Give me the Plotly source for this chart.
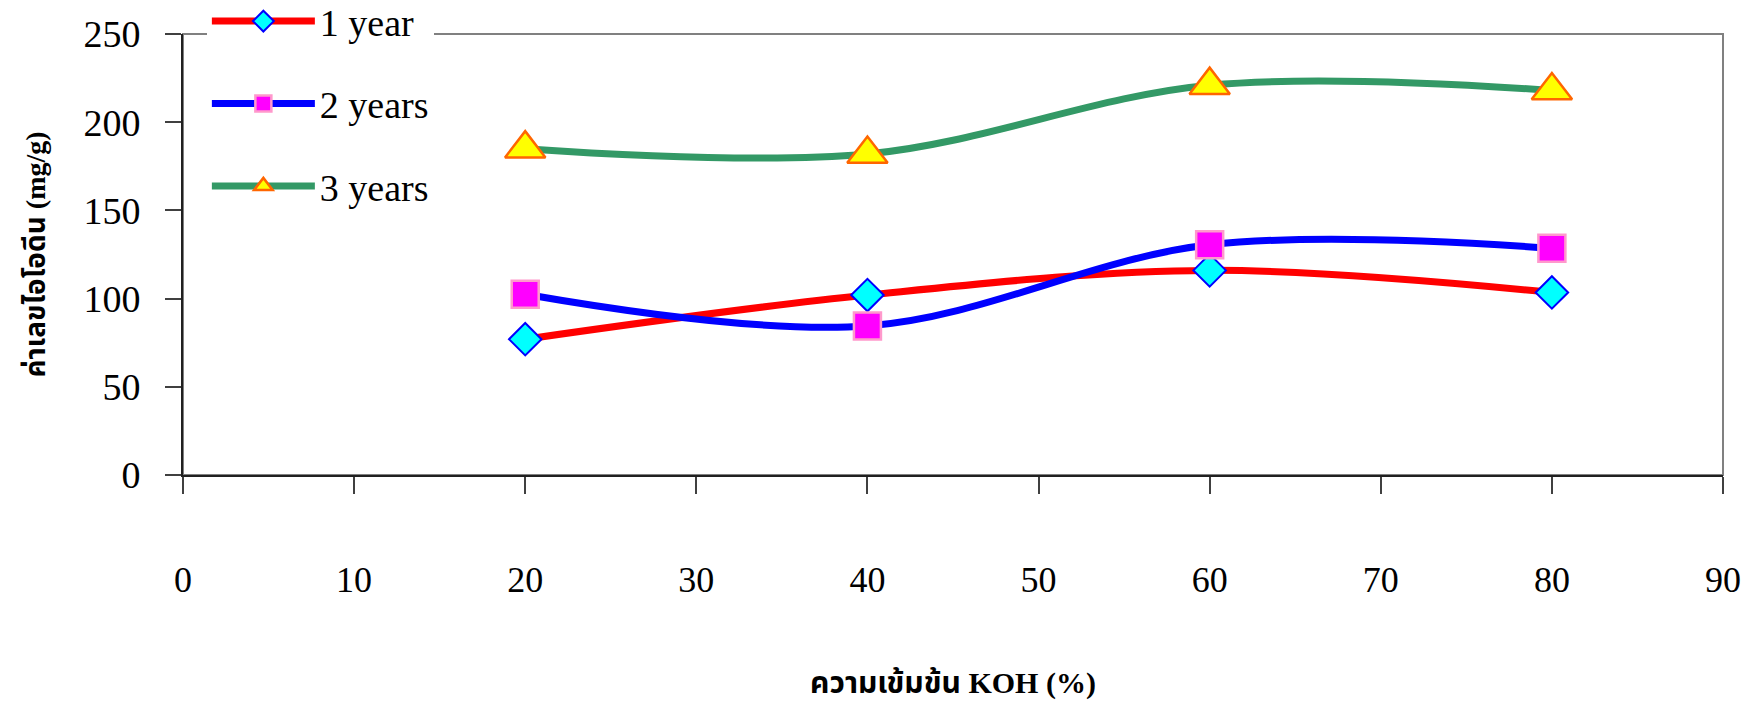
import plotly.graph_objects as go

koh = [20, 40, 60, 80]
year1 = [77, 102, 116, 103.5]
year2 = [102.5, 84.5, 130.5, 128.5]
year3 = [185, 182, 221, 218]
series_names = ["1 year", "2 years", "3 years"]
x_ticks = [0, 10, 20, 30, 40, 50, 60, 70, 80, 90]
y_ticks = [0, 50, 100, 150, 200, 250]

FONT = "Liberation Serif, Times New Roman, Noto Sans Thai, serif"

fig = go.Figure()
styles = [
    (year1, "#FF0000", "diamond", 25, "#00FFFF", "#0000FF", 2),
    (year2, "#0000FF", "square", 27, "#FF00FF", "#FF99CC", 2.5),
    (year3, "#339966", "triangle-up", 35, "#FFFF00", "#FF6600", 2.5),
]
for name, (ys, lc, sym, sz, fc, bc, bw) in zip(series_names, styles):
    fig.add_trace(go.Scatter(
        x=koh, y=ys, name=name, mode="lines+markers",
        line=dict(color=lc, width=7, shape="spline", smoothing=1.0),
        marker=dict(symbol=sym, size=sz, color=fc, line=dict(color=bc, width=bw)),
        legendgroup=name,
    ))

fig.add_shape(type="rect", xref="paper", yref="paper", x0=0, x1=1, y0=0, y1=1,
              line=dict(color="#808080", width=2), layer="below")

fig.update_layout(
    width=1744, height=701,
    margin=dict(l=183, r=21, t=34, b=226, autoexpand=False),
    paper_bgcolor="white", plot_bgcolor="white",
    font=dict(family=FONT, size=36, color="black"),
    showlegend=True,
    legend=dict(
        x=0.0155, y=1.1, xanchor="left", yanchor="top",
        bgcolor="white", borderwidth=0,
        font=dict(family=FONT, size=38, color="black"),
        itemwidth=103, tracegroupgap=30,
    ),
    xaxis=dict(
        range=[0, 90], tickvals=x_ticks, ticktext=[str(v) for v in x_ticks],
        showgrid=False, zeroline=False, automargin=False,
        showline=True, linecolor="#202020", linewidth=2,
        ticks="outside", ticklen=17, tickcolor="#404040", tickwidth=1.5,
        ticklabelstandoff=55,
        tickfont=dict(family=FONT, size=36),
        title=dict(text="<b>ความเข้มข้น KOH (%)</b>", font=dict(family=FONT, size=30), standoff=73),
    ),
    yaxis=dict(
        range=[0, 250], tickvals=y_ticks, ticktext=[str(v) for v in y_ticks],
        showgrid=False, zeroline=False, automargin=False,
        showline=True, linecolor="#202020", linewidth=2,
        ticks="outside", ticklen=16, tickcolor="#404040", tickwidth=1.5,
        ticklabelstandoff=17,
        tickfont=dict(family=FONT, size=38),
        title=dict(text="<b>ค่าเลขไอโอดีน (mg/g)</b>", font=dict(family=FONT, size=28), standoff=30),
    ),
)

fig.write_html("out.html")
